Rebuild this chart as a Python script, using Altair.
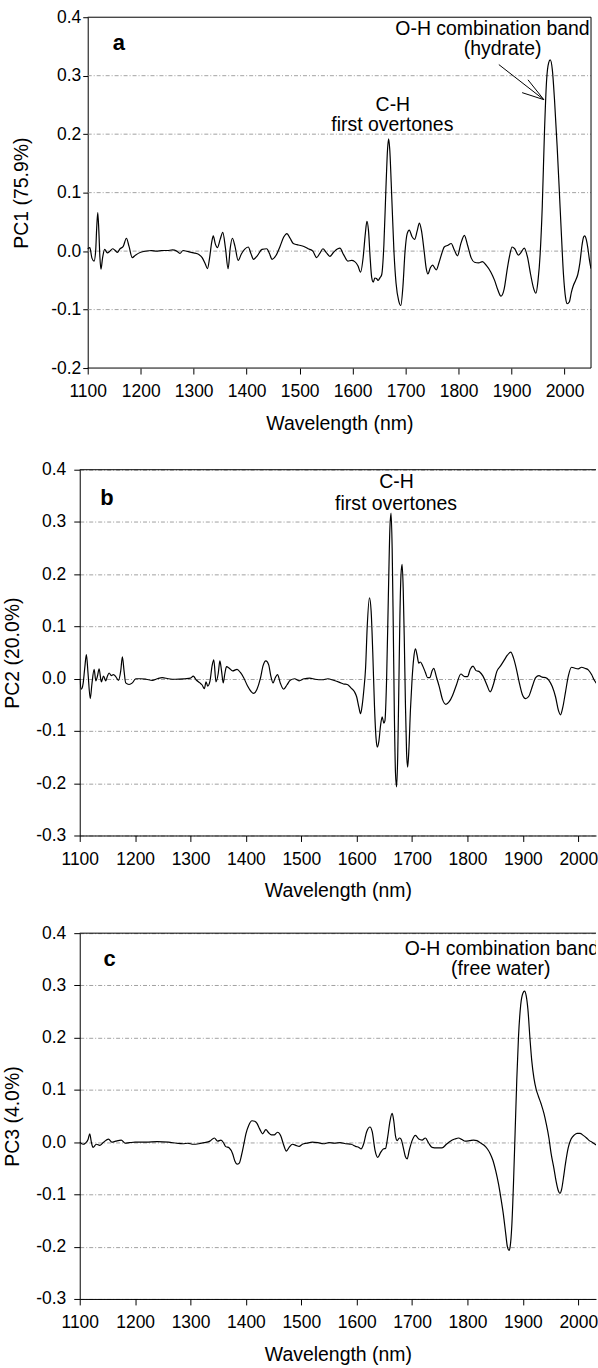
import altair as alt
import pandas as pd

FONT = "Liberation Sans"

# ---------------- data ----------------
pc1_points = [
    (1100,0.004),(1104,0.006),(1108,-0.012),(1112,-0.017),(1115,0.0),(1117,0.04),(1119,0.066),(1121,0.035),
    (1123,-0.01),(1125,-0.031),(1128,-0.012),(1132,0.003),(1137,-0.003),(1142,0.0),(1147,0.004),(1152,0.001),
    (1156,-0.002),(1161,0.004),(1167,0.008),(1173,0.022),(1178,0.008),(1184,-0.011),(1190,-0.007),(1200,-0.002),
    (1210,0.0),(1220,0.001),(1230,0.0),(1240,0.001),(1250,0.001),(1260,0.002),(1268,0.0),(1274,-0.004),
    (1280,0.001),(1290,-0.001),(1300,-0.003),(1310,-0.006),(1316,-0.011),(1322,-0.022),(1326,-0.03),(1330,-0.012),
    (1334,0.015),(1337,0.026),(1341,0.012),(1345,0.006),(1350,0.02),(1355,0.032),(1360,0.005),(1365,-0.03),
    (1369,0.005),(1373,0.022),(1378,0.008),(1384,-0.016),(1390,-0.005),(1396,0.003),(1403,0.007),(1408,-0.004),
    (1413,-0.014),(1420,-0.008),(1429,0.003),(1438,0.004),(1443,-0.004),(1448,-0.014),(1455,-0.008),(1463,0.008),
    (1470,0.024),(1476,0.03),(1482,0.022),(1488,0.013),(1495,0.011),(1500,0.01),(1508,0.008),(1516,0.004),
    (1525,0.0),(1532,-0.011),(1538,-0.004),(1544,0.004),(1550,-0.002),(1557,-0.009),(1564,-0.002),(1572,0.004),
    (1576,0.005),(1583,-0.006),(1591,-0.017),(1598,-0.016),(1604,-0.018),(1610,-0.025),(1615,-0.036),(1620,-0.01),
    (1624,0.03),(1627,0.051),(1630,0.035),(1633,-0.01),(1636,-0.045),(1639,-0.053),(1642,-0.046),(1645,-0.047),
    (1648,-0.05),(1652,-0.045),(1655,-0.04),(1659,0.01),(1663,0.11),(1666,0.175),(1668,0.192),(1670,0.175),
    (1674,0.09),(1678,0.0),(1682,-0.055),(1687,-0.085),(1691,-0.093),(1695,-0.06),(1699,0.0),(1703,0.03),
    (1707,0.036),(1712,0.025),(1717,0.02),(1722,0.035),(1726,0.048),(1730,0.035),(1735,0.0),(1739,-0.03),
    (1742,-0.039),(1747,-0.028),(1751,-0.024),(1755,-0.029),(1758,-0.032),(1763,-0.02),(1768,-0.005),(1773,0.007),
    (1780,0.01),(1786,0.013),(1792,0.002),(1798,-0.008),(1804,0.012),(1811,0.027),(1817,0.01),(1824,-0.012),
    (1830,-0.019),(1838,-0.02),(1845,-0.018),(1852,-0.024),(1861,-0.036),(1868,-0.05),(1874,-0.066),(1880,-0.077),
    (1886,-0.065),(1892,-0.03),(1897,-0.005),(1901,0.007),(1906,0.004),(1913,-0.007),(1918,-0.002),(1924,0.005),
    (1930,-0.01),(1936,-0.04),(1942,-0.065),(1946,-0.072),(1950,-0.05),(1954,-0.005),(1958,0.077),(1962,0.2),
    (1966,0.29),(1970,0.322),(1973,0.327),(1977,0.31),(1981,0.26),(1986,0.18),(1990,0.106),(1994,0.03),
    (1998,-0.04),(2002,-0.08),(2005,-0.09),(2009,-0.087),(2013,-0.07),(2017,-0.058),(2021,-0.05),(2025,-0.04),
    (2029,-0.02),(2033,0.01),(2036,0.024),(2038,0.026),(2041,0.02),(2044,0.005),(2047,-0.015),(2050,-0.03),
]

pc2_points = [
    (1100,0.0),(1103,-0.02),(1106,-0.01),(1109,0.02),(1112,0.046),(1115,0.01),(1119,-0.038),(1122,-0.01),
    (1126,0.018),(1129,-0.004),(1132,0.005),(1135,0.019),(1139,-0.006),(1143,0.005),(1147,-0.004),(1150,0.005),
    (1153,0.011),(1157,0.006),(1161,0.008),(1165,0.004),(1170,-0.003),(1174,0.015),(1177,0.042),(1180,0.015),
    (1183,-0.008),(1189,-0.011),(1195,-0.008),(1201,0.0),(1210,0.0),(1220,-0.001),(1231,-0.003),(1240,0.0),
    (1249,0.002),(1260,0.0),(1273,-0.001),(1290,0.0),(1300,0.001),(1305,0.005),(1310,-0.002),(1317,-0.008),
    (1321,-0.012),(1325,-0.019),(1328,-0.006),(1331,-0.014),(1335,-0.005),(1339,0.025),(1342,0.036),(1346,-0.006),
    (1350,0.01),(1353,0.034),(1356,0.015),(1359,-0.008),(1362,0.01),(1365,0.023),(1370,0.02),(1376,0.015),
    (1384,0.018),(1390,0.012),(1396,0.002),(1403,-0.014),(1409,-0.024),(1414,-0.028),(1420,-0.02),(1426,0.0),
    (1431,0.025),(1436,0.034),(1441,0.027),(1445,0.005),(1449,-0.008),(1453,0.002),(1457,0.008),(1462,-0.008),
    (1468,-0.02),(1474,-0.012),(1480,-0.003),(1488,0.0),(1496,-0.004),(1505,0.0),(1515,0.001),(1525,-0.001),
    (1538,-0.002),(1548,0.0),(1558,-0.003),(1569,-0.007),(1576,-0.01),(1583,-0.011),(1590,-0.018),(1596,-0.025),
    (1600,-0.035),(1604,-0.055),(1607,-0.067),(1610,-0.05),(1613,-0.02),(1616,0.02),(1619,0.1),(1623,0.155),
    (1626,0.13),(1629,0.05),(1632,-0.05),(1635,-0.115),(1637,-0.131),(1640,-0.12),(1643,-0.09),(1646,-0.073),
    (1649,-0.085),(1651,-0.08),(1654,0.0),(1657,0.15),(1660,0.29),(1662,0.317),(1664,0.25),(1666,0.1),
    (1668,-0.07),(1670,-0.18),(1672,-0.207),(1674,-0.15),(1676,-0.02),(1678,0.12),(1680,0.2),(1682,0.219),
    (1684,0.17),(1686,0.07),(1688,-0.05),(1690,-0.14),(1692,-0.169),(1694,-0.14),(1697,-0.06),(1700,0.0),
    (1703,0.04),(1706,0.057),(1709,0.045),(1712,0.03),(1715,0.032),(1719,0.025),(1724,0.012),(1728,0.002),
    (1732,0.002),(1736,0.015),(1739,0.02),(1744,0.003),(1749,-0.015),(1755,-0.04),(1761,-0.049),(1767,-0.044),
    (1773,-0.032),(1780,-0.012),(1788,0.009),(1795,0.004),(1800,0.004),(1805,0.018),(1810,0.024),(1815,0.016),
    (1822,0.013),(1828,0.005),(1835,-0.012),(1841,-0.025),(1847,-0.01),(1853,0.014),(1860,0.025),(1866,0.035),
    (1872,0.045),(1878,0.051),(1883,0.04),(1888,0.02),(1893,-0.005),(1899,-0.03),(1905,-0.038),(1911,-0.033),
    (1917,-0.015),(1923,0.002),(1929,0.006),(1935,0.003),(1941,0.002),(1947,-0.003),(1953,-0.015),(1959,-0.035),
    (1964,-0.06),(1968,-0.069),(1972,-0.055),(1977,-0.025),(1982,0.005),(1988,0.022),(1994,0.02),(2000,0.019),
    (2006,0.022),(2012,0.02),(2018,0.017),(2024,0.008),(2029,-0.003),(2035,-0.012),
]

pc3_points = [
    (1100,0.0),(1106,-0.004),(1110,-0.002),(1115,0.005),(1118,0.016),(1121,0.0),(1124,-0.01),(1130,-0.004),
    (1136,-0.006),(1143,0.0),(1152,0.006),(1158,0.0),(1165,0.002),(1175,0.004),(1182,-0.002),(1190,-0.001),
    (1200,0.0),(1220,0.0),(1240,0.001),(1260,0.0),(1275,-0.002),(1286,-0.003),(1295,-0.002),(1305,-0.004),
    (1315,-0.003),(1325,-0.001),(1335,0.002),(1343,0.008),(1349,0.002),(1355,0.004),(1360,-0.002),(1363,-0.008),
    (1370,-0.011),(1376,-0.022),(1380,-0.036),(1384,-0.042),(1388,-0.04),(1392,-0.025),(1396,-0.005),(1400,0.016),
    (1405,0.032),(1411,0.041),(1416,0.04),(1420,0.036),(1425,0.025),(1430,0.016),(1436,0.024),(1441,0.018),
    (1446,0.014),(1451,0.014),(1457,0.019),(1463,0.012),(1468,-0.005),(1473,-0.017),(1478,-0.01),(1484,-0.004),
    (1490,-0.006),(1496,-0.008),(1502,-0.004),(1510,-0.002),(1520,0.0),(1530,-0.001),(1540,-0.003),(1550,-0.001),
    (1560,-0.002),(1570,-0.001),(1580,-0.003),(1590,-0.004),(1598,-0.008),(1604,-0.01),(1608,-0.013),(1612,-0.005),
    (1618,0.02),(1624,0.029),(1628,0.02),(1633,-0.015),(1638,-0.029),(1643,-0.02),(1648,-0.013),(1652,-0.012),
    (1656,0.01),(1660,0.04),(1664,0.055),(1667,0.04),(1670,0.012),(1673,0.003),(1677,0.008),(1680,0.006),
    (1684,-0.01),(1688,-0.028),(1691,-0.032),(1695,-0.015),(1700,0.003),(1706,0.013),(1712,0.006),(1718,0.004),
    (1724,0.008),(1730,-0.002),(1736,-0.01),(1745,-0.011),(1754,-0.011),(1762,-0.004),(1769,0.002),(1777,0.006),
    (1784,0.008),(1790,0.005),(1796,0.002),(1804,0.003),(1811,0.004),(1817,0.003),(1823,-0.001),(1830,-0.006),
    (1836,-0.013),(1841,-0.022),(1846,-0.035),(1851,-0.055),(1856,-0.08),(1860,-0.105),(1865,-0.14),(1869,-0.175),
    (1872,-0.2),(1875,-0.207),(1877,-0.2),(1880,-0.16),(1883,-0.08),(1886,0.02),(1889,0.12),(1892,0.2),
    (1896,0.262),(1900,0.285),(1903,0.289),(1906,0.28),(1909,0.255),(1913,0.195),(1916,0.156),(1920,0.122),
    (1924,0.101),(1928,0.088),(1933,0.073),(1938,0.055),(1942,0.036),(1947,0.008),(1951,-0.022),(1956,-0.05),
    (1960,-0.075),(1964,-0.093),(1967,-0.098),(1970,-0.09),(1973,-0.07),(1977,-0.04),(1982,-0.01),(1987,0.006),
    (1993,0.014),(1998,0.017),(2003,0.017),(2009,0.013),(2015,0.008),(2020,0.003),(2025,0.0),(2029,-0.003),
    (2033,-0.006),
]

x_ticks = [1100, 1200, 1300, 1400, 1500, 1600, 1700, 1800, 1900, 2000]
y_ticks_a = [-0.2, -0.1, 0.0, 0.1, 0.2, 0.3, 0.4]
y_ticks_bc = [-0.3, -0.2, -0.1, 0.0, 0.1, 0.2, 0.3, 0.4]

x_range_a = [1100, 2050]      # wavelength span of panel a's frame
x_range_bc = [1100, 2032]     # visible span of panels b and c (cut at the right edge)

y_titles = ["PC1 (75.9%)", "PC2 (20.0%)", "PC3 (4.0%)"]
panel_letters = ["a", "b", "c"]
letter_pos = [(1159, 0.344), (1149, 0.333), (1154, 0.337)]

# annotations: (text, wavelength, value)
notes_a = [("C-H", 1676, 0.239), ("first overtones", 1675, 0.206),
           ("O-H combination band", 1864, 0.369), ("(hydrate)", 1883, 0.335)]
notes_b = [("C-H", 1672, 0.365), ("first overtones", 1671, 0.322)]
notes_c = [("O-H combination band", 1862, 0.358), ("(free water)", 1860, 0.320)]

# arrow segments in panel a: (wl start, value start, wl end, value end)
arrow_a = [(1876, 0.319, 1961, 0.259), (1931, 0.293, 1961, 0.259), (1920, 0.271, 1961, 0.259)]

# ---------------- helpers ----------------
LABEL_EXPR = "datum.value < 0 ? '-' + format(-datum.value, '.1f') : format(datum.value, '.1f')"
GRID_COLOR = "#8a8a8a"
GRID_DASH = [4, 2, 1, 2]


def make_panel(points, ytitle, ydom, yticks, xrange_, width, height, letter, lpos, notes,
               label_pad, tick_size, title_pad, inset=0, arrows=None):
    """inset > 0: the plot group starts `inset` px left of the frame (panel a is shifted right
    relative to b and c in the reference); axes/frame/grid are then drawn at the frame."""
    px_per_nm = width / (xrange_[1] - xrange_[0])
    xdom = [xrange_[0] - inset / px_per_nm, xrange_[1]]
    gwidth = width + inset
    df = pd.DataFrame(points, columns=["wl", "v"])
    xscale = alt.Scale(domain=xdom, nice=False, zero=False)
    yscale = alt.Scale(domain=ydom, nice=False, zero=False)
    xaxis = alt.Axis(values=x_ticks, format="d", title="Wavelength (nm)", grid=False,
                     labelFont=FONT, titleFont=FONT, labelFontSize=17.5, titleFontSize=19.5,
                     titleFontWeight="normal", labelColor="black", titleColor="black",
                     domain=(inset == 0), domainColor="black", tickColor="black", tickSize=6,
                     labelPadding=9, titlePadding=14, titleX=inset + width / 2,
                     labelFlush=False, labelOverlap=False)
    yaxis = alt.Axis(values=yticks, labelExpr=LABEL_EXPR, title=ytitle, grid=(inset == 0),
                     gridColor=GRID_COLOR, gridDash=GRID_DASH, gridWidth=0.8,
                     labelFont=FONT, titleFont=FONT, labelFontSize=17.5, titleFontSize=19.5,
                     titleFontWeight="normal", labelColor="black", titleColor="black",
                     domainColor="black", tickColor="black", tickSize=tick_size, offset=-inset,
                     labelPadding=label_pad, titlePadding=title_pad, labelFlush=False, labelOverlap=False)

    line = alt.Chart(df).mark_line(color="black", strokeWidth=1.2, interpolate="monotone", clip=True).encode(
        x=alt.X("wl:Q", scale=xscale, axis=xaxis),
        y=alt.Y("v:Q", scale=yscale, axis=yaxis),
    )
    layers = []

    if inset:
        # dashed grid lines and a full frame, spanning only the frame's wavelength range
        inner = [t for t in yticks if ydom[0] < t < ydom[1]]
        grid_df = pd.DataFrame({"v": inner, "wl": [xrange_[0]] * len(inner), "wl2": [xrange_[1]] * len(inner)})
        layers.append(
            alt.Chart(grid_df).mark_rule(color=GRID_COLOR, strokeDash=GRID_DASH, strokeWidth=0.8).encode(
                x="wl:Q", x2="wl2:Q", y="v:Q")
        )
        layers.append(line)
        frame_df = pd.DataFrame({
            "wl": [xrange_[1], xrange_[0], xrange_[0]],
            "wl2": [xrange_[1], xrange_[1], xrange_[1]],
            "v": [ydom[0], ydom[1], ydom[0]],
            "v2": [ydom[1], ydom[1], ydom[0]],
        })
        layers.append(
            alt.Chart(frame_df).mark_rule(color="black", strokeWidth=1).encode(
                x="wl:Q", x2="wl2:Q", y="v:Q", y2="v2:Q")
        )
    else:
        layers.append(line)
        top = alt.Chart(pd.DataFrame({"v": [ydom[1]]})).mark_rule(color="black", strokeWidth=1).encode(
            y=alt.Y("v:Q")
        )
        layers.append(top)

    let_df = pd.DataFrame({"wl": [lpos[0]], "v": [lpos[1]], "t": [letter]})
    layers.append(
        alt.Chart(let_df).mark_text(font=FONT, fontSize=22, fontWeight="bold", align="center",
                                    baseline="alphabetic", color="black").encode(
            x="wl:Q", y="v:Q", text="t:N")
    )
    note_df = pd.DataFrame(notes, columns=["t", "wl", "v"])
    layers.append(
        alt.Chart(note_df).mark_text(font=FONT, fontSize=19.5, align="center", baseline="alphabetic",
                                     color="black", clip=True).encode(
            x="wl:Q", y="v:Q", text="t:N")
    )
    if arrows:
        adf = pd.DataFrame(arrows, columns=["wl", "v", "wl2", "v2"])
        layers.append(
            alt.Chart(adf).mark_rule(color="black", strokeWidth=1).encode(
                x="wl:Q", y="v:Q", x2="wl2:Q", y2="v2:Q")
        )
    return alt.layer(*layers).properties(width=gwidth, height=height,
                                         view=alt.ViewBackground(strokeOpacity=0))


chart_a = make_panel(pc1_points, y_titles[0], [-0.2, 0.4], y_ticks_a, x_range_a, 505, 352,
                     panel_letters[0], letter_pos[0], notes_a, label_pad=2, tick_size=5, title_pad=19,
                     inset=8, arrows=arrow_a)
chart_b = make_panel(pc2_points, y_titles[1], [-0.3, 0.4], y_ticks_bc, x_range_bc, 518, 367,
                     panel_letters[1], letter_pos[1], notes_b, label_pad=8, tick_size=6, title_pad=13.6)
chart_c = make_panel(pc3_points, y_titles[2], [-0.3, 0.4], y_ticks_bc, x_range_bc, 518, 367,
                     panel_letters[2], letter_pos[2], notes_c, label_pad=8, tick_size=6, title_pad=13.6)

bottom = alt.vconcat(chart_b, chart_c, spacing=24)
chart = alt.vconcat(chart_a, bottom, spacing=28).properties(
    padding={"left": 2, "top": 6, "right": 0, "bottom": 0},
    background="white",
).configure(font=FONT)

chart.save("out.html", embed_options={"renderer": "svg", "actions": False})
